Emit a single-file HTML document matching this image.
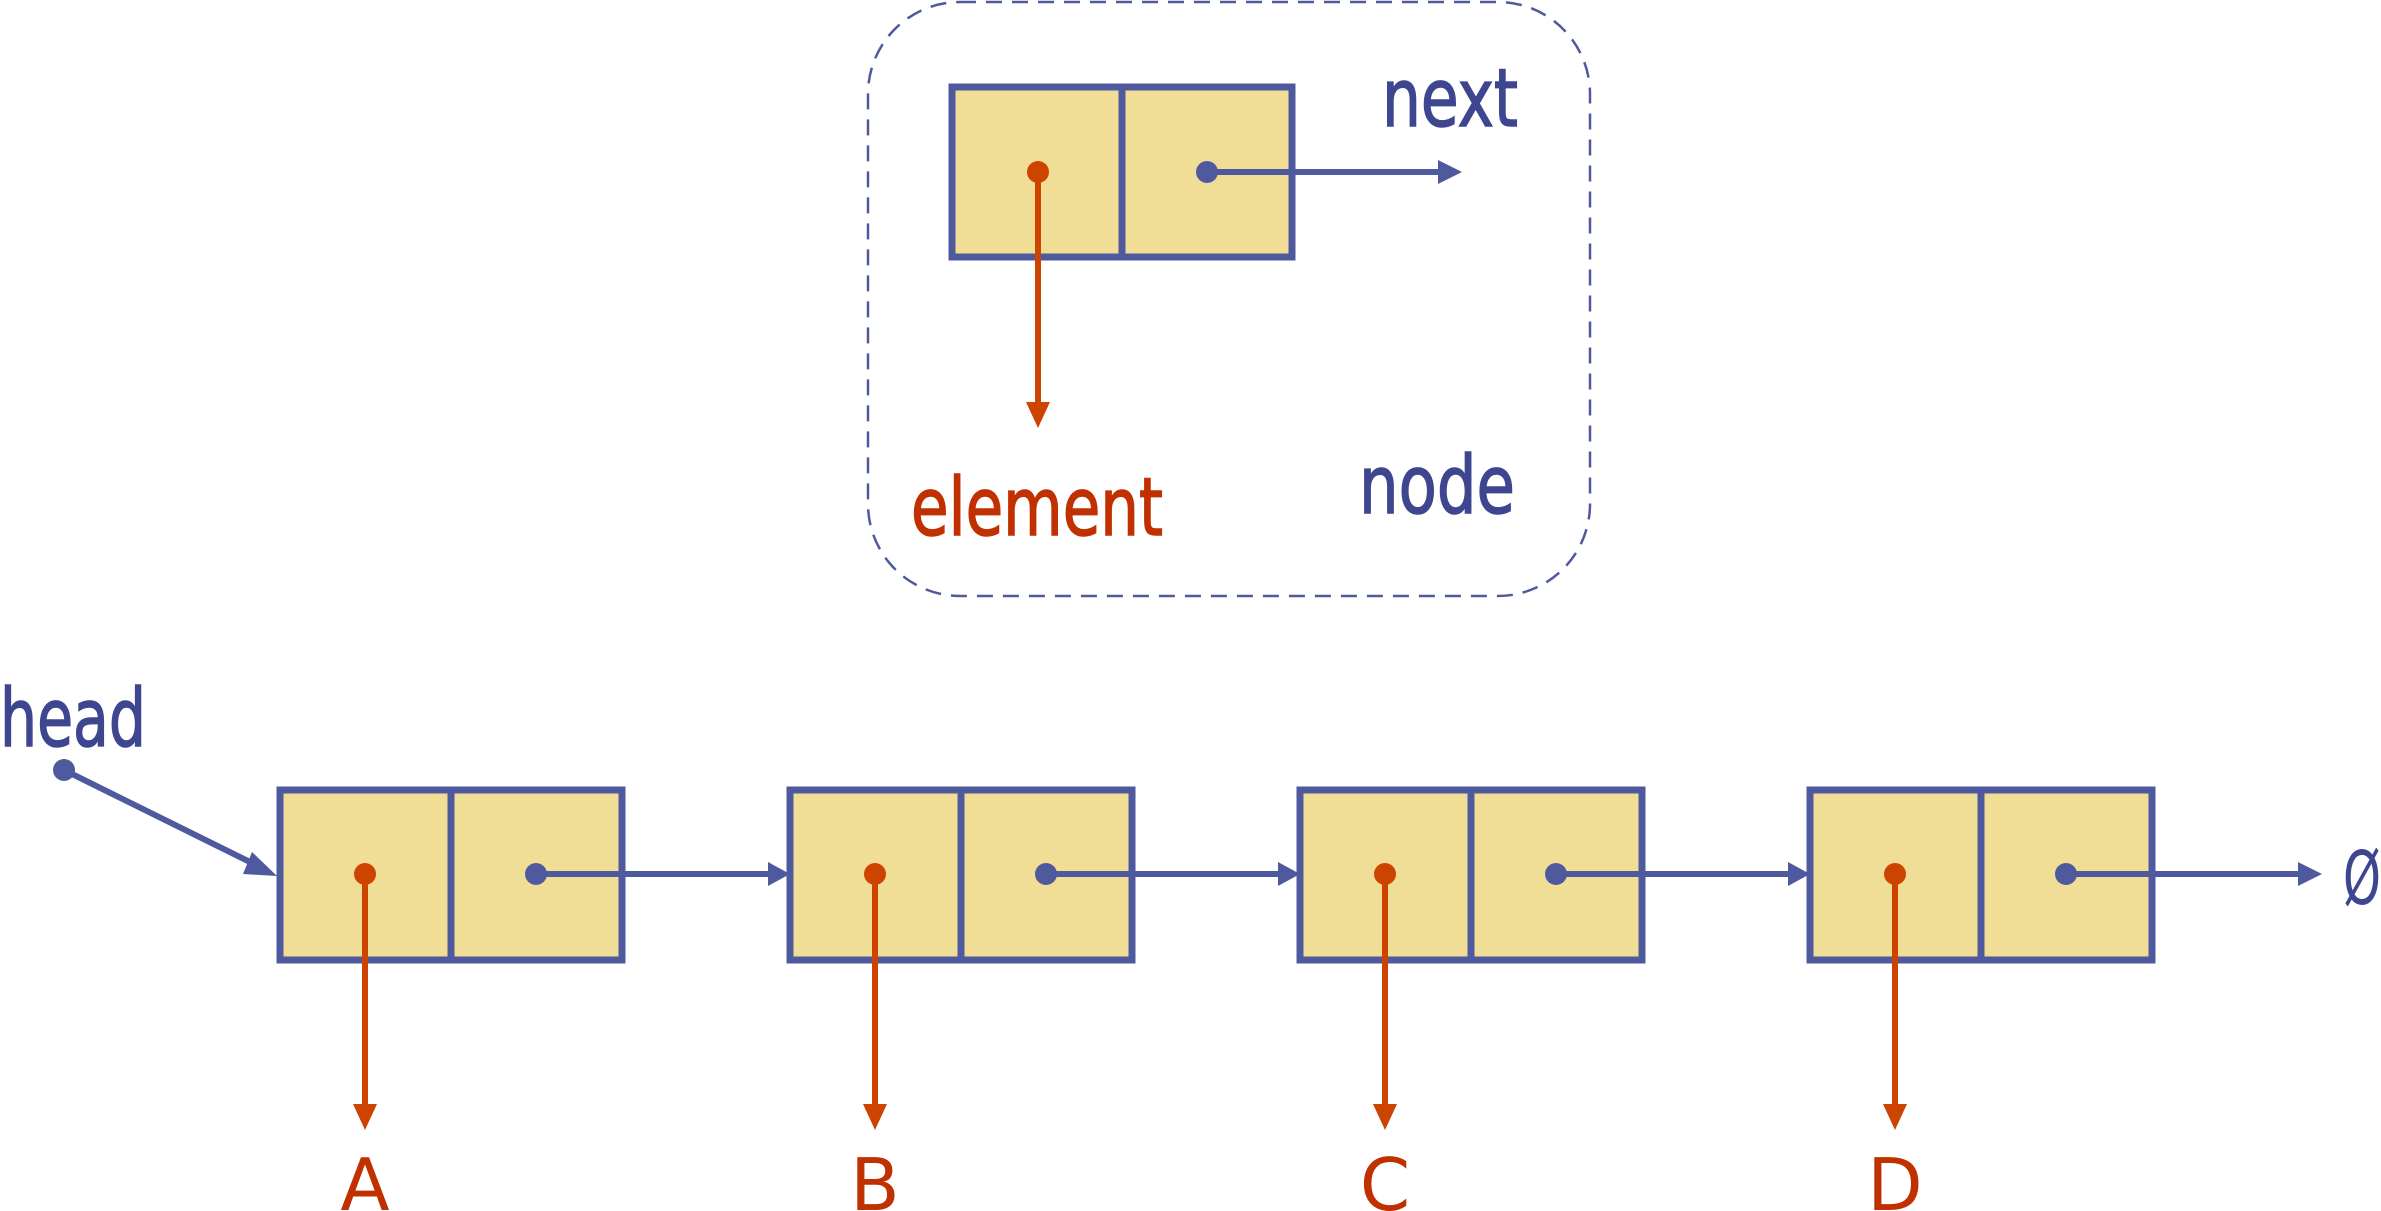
<!DOCTYPE html>
<html><head><meta charset="utf-8"><style>
html,body{margin:0;padding:0;background:#fff;}
svg{display:block;}
text{font-family:"DejaVu Sans","Liberation Sans",sans-serif;}
</style></head><body>
<svg width="2381" height="1211" viewBox="0 0 2381 1211" xmlns="http://www.w3.org/2000/svg">
<rect x="868" y="2" width="722" height="594" rx="92" ry="92" fill="none" stroke="#4f5a9e" stroke-width="2.5" stroke-dasharray="16,10"/>
<rect x="952" y="87" width="340" height="170" fill="#f0de96" stroke="#4f5a9e" stroke-width="7"/>
<line x1="1122" y1="87" x2="1122" y2="257" stroke="#4f5a9e" stroke-width="7"/>
<line x1="1207" y1="172" x2="1438" y2="172" stroke="#4f5a9e" stroke-width="6"/>
<polygon points="1438,160 1462,172 1438,184" fill="#4f5a9e"/>
<circle cx="1207" cy="172" r="11" fill="#4f5a9e"/>
<line x1="1038" y1="172" x2="1038" y2="404" stroke="#cc4400" stroke-width="6"/>
<polygon points="1026,402 1050,402 1038,428" fill="#cc4400"/>
<circle cx="1038" cy="172" r="11" fill="#cc4400"/>
<text x="1382" y="126" font-size="80" fill="#3f4690" textLength="136" lengthAdjust="spacingAndGlyphs" stroke="#3f4690" stroke-width="1.5">next</text>
<text x="911" y="535" font-size="80" fill="#c03000" textLength="252" lengthAdjust="spacingAndGlyphs" stroke="#c03000" stroke-width="1.5">element</text>
<text x="1359" y="513" font-size="80" fill="#3f4690" textLength="156" lengthAdjust="spacingAndGlyphs" stroke="#3f4690" stroke-width="1.5">node</text>
<text x="0" y="746" font-size="80" fill="#3f4690" textLength="146" lengthAdjust="spacingAndGlyphs" stroke="#3f4690" stroke-width="1.5">head</text>
<line x1="64" y1="770" x2="258" y2="866" stroke="#4f5a9e" stroke-width="6"/>
<polygon points="252,852 277,876 243,874" fill="#4f5a9e"/>
<circle cx="64" cy="770" r="11" fill="#4f5a9e"/>
<g fill="#f0de96" stroke="#4f5a9e" stroke-width="7">
<rect x="280" y="790" width="342" height="170"/>
<rect x="790" y="790" width="342" height="170"/>
<rect x="1300" y="790" width="342" height="170"/>
<rect x="1810" y="790" width="342" height="170"/>
</g>
<g stroke="#4f5a9e" stroke-width="7">
<line x1="451" y1="790" x2="451" y2="960"/>
<line x1="961" y1="790" x2="961" y2="960"/>
<line x1="1471" y1="790" x2="1471" y2="960"/>
<line x1="1981" y1="790" x2="1981" y2="960"/>
</g>
<g stroke="#4f5a9e" stroke-width="6">
<line x1="536" y1="874" x2="768" y2="874"/>
<line x1="1046" y1="874" x2="1278" y2="874"/>
<line x1="1556" y1="874" x2="1788" y2="874"/>
<line x1="2066" y1="874" x2="2298" y2="874"/>
</g>
<g fill="#4f5a9e">
<polygon points="768,862 790,874 768,886"/>
<polygon points="1278,862 1300,874 1278,886"/>
<polygon points="1788,862 1810,874 1788,886"/>
<polygon points="2298,862 2322,874 2298,886"/>
<circle cx="536" cy="874" r="11"/>
<circle cx="1046" cy="874" r="11"/>
<circle cx="1556" cy="874" r="11"/>
<circle cx="2066" cy="874" r="11"/>
</g>
<g stroke="#cc4400" stroke-width="6">
<line x1="365" y1="874" x2="365" y2="1106"/>
<line x1="875" y1="874" x2="875" y2="1106"/>
<line x1="1385" y1="874" x2="1385" y2="1106"/>
<line x1="1895" y1="874" x2="1895" y2="1106"/>
</g>
<g fill="#cc4400">
<polygon points="353,1104 377,1104 365,1130"/>
<polygon points="863,1104 887,1104 875,1130"/>
<polygon points="1373,1104 1397,1104 1385,1130"/>
<polygon points="1883,1104 1907,1104 1895,1130"/>
<circle cx="365" cy="874" r="11"/>
<circle cx="875" cy="874" r="11"/>
<circle cx="1385" cy="874" r="11"/>
<circle cx="1895" cy="874" r="11"/>
</g>
<g font-size="72" fill="#c03000" text-anchor="middle">
<text x="365" y="1210">A</text>
<text x="875" y="1210">B</text>
<text x="1385" y="1210">C</text>
<text x="1895" y="1210">D</text>
</g>
<text x="2343" y="904" font-size="74" fill="#3f4690" textLength="38" lengthAdjust="spacingAndGlyphs">Ø</text>
</svg>
</body></html>
